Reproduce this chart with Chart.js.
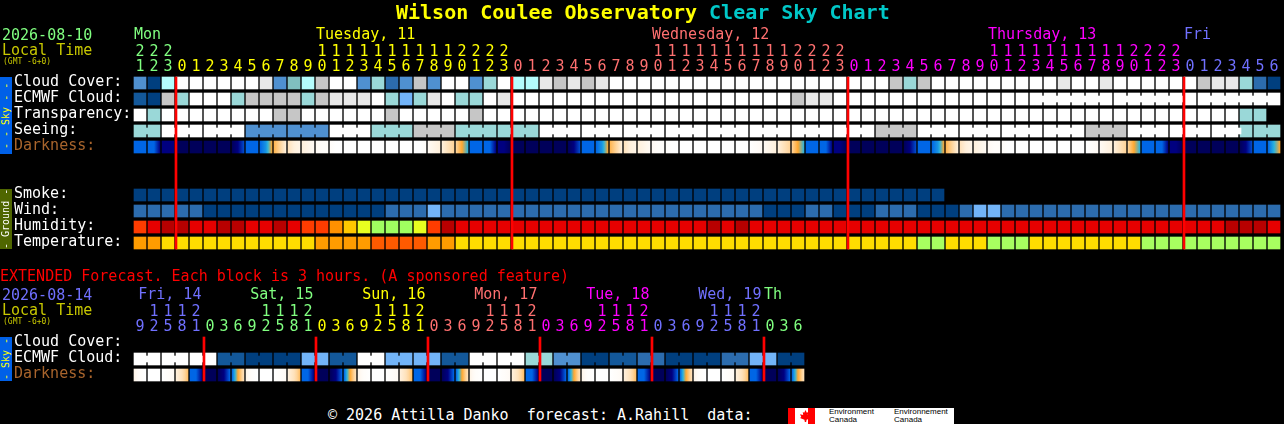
<!DOCTYPE html>
<html>
<head>
<meta charset="utf-8">
<title>Clear Sky Chart</title>
<script src="https://cdn.jsdelivr.net/npm/chart.js@4/dist/chart.umd.min.js"></script>
<style>
  html, body { margin: 0; padding: 0; background: #000; width: 1284px; height: 424px; overflow: hidden; }
  canvas { position: absolute; left: 0; }
  .t { position: absolute; white-space: pre; font-family: "DejaVu Sans Mono", monospace; font-size: 15px; line-height: 16px; }
  .side { position: absolute; left: 0; width: 12px; writing-mode: vertical-rl; transform: rotate(180deg); text-align: center;
          font-family: "DejaVu Sans Mono", monospace; font-size: 10px; line-height: 12px; white-space: pre; }
  #logo { position: absolute; left: 788px; top: 408px; width: 166px; height: 16px; background: #fff; overflow: hidden; }
  #logo i { position: absolute; top: 0; height: 16px; background: #f00; }
  #logo b { position: absolute; left: 12px; top: 2px; width: 11px; height: 12px; background: #f00;
            clip-path: polygon(50% 0, 62% 22%, 75% 16%, 71% 42%, 100% 36%, 88% 58%, 100% 66%, 60% 82%, 56% 100%, 44% 100%, 40% 82%, 0 66%, 12% 58%, 0 36%, 29% 42%, 25% 16%, 38% 22%); }
  #logo span { position: absolute; font: 8px/8px "Liberation Sans", sans-serif; color: #000; }
</style>
</head>
<body>
<canvas id="mainChart" width="1284" height="256" style="top:0"></canvas>
<canvas id="extChart" width="1284" height="110" style="top:280px"></canvas>

<div class="t" style="left:396px;top:0;font-size:20px;line-height:24px;font-weight:bold;color:#ff0">Wilson Coulee Observatory <span style="color:#00c8c8">Clear Sky Chart</span></div>
<div class="t" style="left:2px;top:27px;color:#80ff80">2026-08-10</div>
<div class="t" style="left:2px;top:42px;color:#c8c800">Local Time</div>
<div class="t" style="left:3px;top:57px;font-size:8px;line-height:10px;color:#c8c800">(GMT -6+0)</div>
<div class="t" style="left:0;top:268px;color:#f00">EXTENDED Forecast. Each block is 3 hours. (A sponsored feature)</div>
<div class="t" style="left:2px;top:287px;color:#7070ff">2026-08-14</div>
<div class="t" style="left:2px;top:302px;color:#c8c800">Local Time</div>
<div class="t" style="left:3px;top:317px;font-size:8px;line-height:10px;color:#c8c800">(GMT -6+0)</div>
<div class="t" style="left:328px;top:407px;color:#fff">© 2026 Attilla Danko  forecast: A.Rahill  data:</div>

<div class="side" style="top:77px;height:77px;background:#0060e8;color:#ff0">- - Sky - -</div>
<div class="side" style="top:189px;height:60px;background:#4f6600;color:#fff">- Ground -</div>
<div class="side" style="top:337px;height:44px;background:#0060e8;color:#ff0">- Sky -</div>

<div id="logo">
  <i style="left:0;width:7px"></i><b></b><i style="left:20px;width:7px"></i>
  <span style="left:41px;top:0">Environment</span><span style="left:41px;top:8px">Canada</span>
  <span style="left:106px;top:0">Environnement</span><span style="left:106px;top:8px">Canada</span>
</div>

<script>
// hours along the top of each panel
const mainHours = [21,22,23,
  0,1,2,3,4,5,6,7,8,9,10,11,12,13,14,15,16,17,18,19,20,21,22,23,
  0,1,2,3,4,5,6,7,8,9,10,11,12,13,14,15,16,17,18,19,20,21,22,23,
  0,1,2,3,4,5,6,7,8,9,10,11,12,13,14,15,16,17,18,19,20,21,22,23,
  0,1,2,3,4,5,6]
const extHours = [9,12,15,18,21,0,3,6,9,12,15,18,21,0,3,6,9,12,15,18,21,0,3,6,9,12,15,18,21,0,3,6,9,12,15,18,21,0,3,6,9,12,15,18,21,0,3,6]

const mainRows = ['Cloud Cover:','ECMWF Cloud:','Transparency:','Seeing:','Darkness:','','','Smoke:','Wind:','Humidity:','Temperature:']
const extRows = ['Cloud Cover:','ECMWF Cloud:','Darkness:']

const mainDayNames = ['Mon','Tuesday, 11','Wednesday, 12','Thursday, 13','Fri']
const mainDayStarts = [0,13,37,61,75]
const mainDayColors = ['#80ff80','#ffff00','#ff7070','#ff00ff','#7070ff']
const extDayNames = ['Fri, 14','Sat, 15','Sun, 16','Mon, 17','Tue, 18','Wed, 19','Th']
const extDayStarts = [0.3,8.3,16.3,24.3,32.3,40.3,45]
const extDayColors = ['#7070ff','#80ff80','#ffff00','#ff7070','#ff00ff','#7070ff','#80ff80']

// colour scales, the series below index into these
const skyColors = ['#003f7f','#13589a','#2c6cae','#4f90d0','#72b4f8','#b4fcfc','#9ad8d8','#80bfbf','#c6c6c6','#e8e8e8','#ffffff']
const humidityColors = ['#ff3c00','#e60000','#b80000','#ff9000','#ffc800','#e8ff20','#a0ff60']
const temperatureColors = ['#ff5a00','#ff9c00','#ffdc00','#a8ff60']
const darknessRamp = ['#00005a','#000080','#0032b4','#0066e6','#2ab4e0','#ffa830','#ffd49a','#fff0dc','#fffaf4','#ffffff']

// main panel, one value per hour
const cloudCover = [3,0,5,10,10,10,10,10,10,9,3,7,5,8,10,10,3,6,2,3,8,3,10,10,3,6,10,5,5,9,8,9,8,9,
  10,10,10,10,10,10,10,10,10,10,10,10,10,10,10,10,10,10,10,10,8,6,8,10,10,10,10,10,10,10,10,10,9,10,10,9,10,10,10,10,10,10,8,9,9,6,2,0]
const ecmwfCloud = [1,0,8,6,10,10,10,6,8,8,8,8,6,8,9,9,9,10,6,4,6,9,10,6,6,10,9,
  10,10,10,10,10,10,10,10,10,10,10,10,10,10,10,10,10,10,10,10,8,9,9,
  10,10,10,10,10,10,10,10,10,10,10,10,10,10,10,10,10,10,10,10,10,10,10,10,10,10,10,10,10,10,10,10]
const transparency = [10,6,10,10,10,10,10,10,10,10,8,8,10,10,10,10,10,10,8,10,10,10,10,10,8,
  10,10,10,10,10,10,10,10,10,10,10,10,10,10,10,10,10,10,10,10,10,10,10,10,10,10,10,10,
  10,10,10,10,10,10,10,10,10,10,10,10,10,10,10,10,10,10,10,10,10,10,10,10,10,10,6,6]
const seeing = [6,6,10,10,10,10,10,10,3,3,3,3,3,3,10,10,10,6,6,6,8,8,8,6,6,6,6,6,6,
  10,10,10,10,10,10,10,10,10,10,10,10,10,10,10,10,10,10,10,10,10,10,10,10,8,8,8,
  10,10,10,10,10,10,10,10,10,10,10,10,8,8,8,10,10,10,10,10,10,10,10,6,6,6]
const darknessLeft = [3,3,1,
  0,0,0,0,0,3,3,5.3,6.5,7,8,8.5,9,9,9,9,9,9,8,7,6,3,3,1,
  0,0,0,0,0,3,3,5.3,6.5,7,8,8.5,9,9,9,9,9,9,8,7,6,3,3,1,
  0,0,0,0,0,3,3,5.3,6.5,7,8,8.5,9,9,9,9,9,9,8,7,6,3,3,1,
  0,0,0,0,0,3,3]
const darknessMid = [3,3,1,
  0,0,0,0,1,3,3.6,6,7,7.5,8.5,9,9,9,9,9,9,9,7.5,6.5,5,3,3,1,
  0,0,0,0,1,3,3.6,6,7,7.5,8.5,9,9,9,9,9,9,8.5,7.5,6.5,5,3,3,1,
  0,0,0,0,1,3,3.6,6,7,7.5,8.5,9,9,9,9,9,9,8.5,7.5,6.5,5,3,3,1,
  0,0,0,0,1,3,4]
const darknessRight = [3,1,1,
  0,0,0,0,2.5,3,5,7,7.5,8,8.5,9,9,9,9,9,9,8.5,7,6,4,3,1,0,
  0,0,0,0,2.5,3,5,7,7.5,8,8.5,9,9,9,9,9,9,8,7,6,4,3,1,0,
  0,0,0,0,2.5,3,5,7,7.5,8,8.5,9,9,9,9,9,9,8,7,6,4,3,1,0,
  0,0,0,0,2.5,3,5]
const smoke = [0,0,0,0,0,0,0,0,0,0,0,0,0,0,0,0,0,0,0,0,0,0,0,0,0,0,0,0,0,0,0,0,0,0,0,0,0,0,0,0,0,0,0,0,0,0,0,0,0,0,0,0,0,0,0,0,0,0]
const wind = [2,2,2,2,2,0,0,0,0,0,0,0,0,0,0,0,0,0,2,2,2,4,
  2,2,2,2,2,2,2,2,2,2,2,2,2,2,2,2,2,2,2,2,2,2,2,0,0,0,2,2,0,0,0,2,2,2,0,0,0,2,4,4,
  2,2,2,2,2,2,2,2,2,2,2,2,2,2,2,2,2,2,2,2]
const humidity = [0,1,2,2,1,1,2,2,1,1,2,1,0,0,3,4,5,6,6,6,5,0,2,
  1,1,1,1,1,1,1,1,1,1,1,1,1,1,1,1,1,1,2,1,2,
  1,1,1,1,1,1,1,1,1,1,1,1,1,1,1,1,1,1,1,1,1,1,1,1,1,1,1,1,1,1,1,1,1,1,2,2,2,1]
const temperature = [1,1,2,2,2,2,2,2,2,2,2,2,2,1,1,1,1,0,0,0,0,1,1,
  2,2,2,2,2,2,2,2,2,2,2,2,2,2,2,2,2,2,2,2,2,2,2,2,2,2,2,2,2,2,2,2,2,
  3,3,2,2,2,3,3,3,2,2,2,2,2,2,2,2,3,3,3,3,3,3,3,3,3,3]

// extended panel, one value per 3 hour block
const extEcmwf = [10,10,10,10,10,10,1,1,0,0,0,0,4,4,1,1,10,10,4,4,4,4,1,1,10,10,10,10,6,6,3,3,0,0,1,1,2,2,0,0,0,0,2,2,4,4,0,0]
const extDarkLeft = [7.5,9,9,7,3,0,0,3,7.5,9,9,7,3,0,0,3,7.5,9,9,7,3,0,0,3,7.5,9,9,7,3,0,0,3,7.5,9,9,7,3,0,0,3,7.5,9,9,7,3,0,0,3]
const extDarkMid = [8.5,9,8.5,6.5,3,0,1,5,8.5,9,8.5,6.5,3,0,1,5,8.5,9,8.5,6.5,3,0,1,5,8.5,9,8.5,6.5,3,0,1,5,8.5,9,8.5,6.5,3,0,1,5,8.5,9,8.5,6.5,3,0,1,5]
const extDarkRight = [9,9,8,5.5,1,0,3,6.5,9,9,8,5.5,1,0,3,6.5,9,9,8,5.5,1,0,3,6.5,9,9,8,5.5,1,0,3,6.5,9,9,8,5.5,1,0,3,6.5,9,9,8,5.5,1,0,3,6.5]

const CELL_HALF = 0.375   // 12px of a 16px row
const BRIDGE_HALF = 0.1875

function hex2rgb(h) {
  return [1, 3, 5].map(i => parseInt(h.substr(i, 2), 16))
}
function rampColor(level) {
  const lo = Math.floor(level), hi = Math.min(lo + 1, darknessRamp.length - 1), f = level - lo
  const a = hex2rgb(darknessRamp[lo]), b = hex2rgb(darknessRamp[hi])
  return 'rgb(' + a.map((v, i) => Math.round(v + (b[i] - v) * f)).join(',') + ')'
}

// a row of cells, colours come from a palette lookup
function cellRow(row, values, colors) {
  return {
    data: values.map((v, i) => ({ x: i, y: [row - CELL_HALF, row + CELL_HALF] })),
    backgroundColor: c => colors[values[c.dataIndex]],
    barThickness: 12, stack: 'all', order: 3
  }
}
// the darkness row fades inside each cell
function darknessRow(row, left, mid, right) {
  return {
    data: left.map((v, i) => ({ x: i, y: [row - CELL_HALF, row + CELL_HALF] })),
    backgroundColor: c => {
      const i = c.dataIndex
      const cx = c.chart.scales.x ? c.chart.scales.x.getPixelForValue(i) : NaN
      if (!isFinite(cx)) return darknessRamp[0]
      const g = c.chart.ctx.createLinearGradient(cx - 6, 0, cx + 6, 0)
      for (let t = 0; t <= 12; t++) {
        const p = t / 12
        const level = p < 0.5 ? left[i] + (mid[i] - left[i]) * p * 2 : mid[i] + (right[i] - mid[i]) * (p - 0.5) * 2
        g.addColorStop(p, rampColor(level))
      }
      return g
    },
    barThickness: 12, stack: 'all', order: 3
  }
}
// thin joins between neighbouring cells of one forecast block
function bridgeRow(row, values, colors, joined) {
  const idx = values.map((v, i) => i).filter(i => i < values.length - 1 && joined(i))
  return {
    data: idx.map(i => ({ x: i + 0.5, y: [row - BRIDGE_HALF, row + BRIDGE_HALF] })),
    backgroundColor: c => colors[values[idx[c.dataIndex]]],
    barThickness: 4, stack: 'all', order: 2
  }
}
function midnightRow(hours, rows) {
  const idx = hours.map((h, i) => i).filter(i => hours[i] === 0)
  return {
    data: idx.map(i => ({ x: i - 0.43, y: [-CELL_HALF, rows.length - 1 + CELL_HALF] })),
    backgroundColor: '#ff0000',
    barThickness: 2, stack: 'all', order: 1
  }
}

const dayLabels = {
  id: 'dayLabels',
  afterDraw(chart, args, opts) {
    const { ctx, scales, chartArea } = chart
    ctx.save()
    ctx.font = '15px "DejaVu Sans Mono"'
    ctx.textBaseline = 'middle'
    opts.names.forEach((name, i) => {
      ctx.fillStyle = opts.colors[i]
      ctx.fillText(name, scales.x.getPixelForValue(opts.starts[i]) - 6, chartArea.top - 40)
    })
    ctx.restore()
  }
}

function makeChart(id, hours, rows, datasets, names, starts, colors, pad) {
  const xMax = hours.length - 0.5
  new Chart(document.querySelector(id), {
    type: 'bar',
    data: { datasets: datasets },
    plugins: [dayLabels],
    options: {
      responsive: false,
      animation: false,
      layout: { padding: pad },
      plugins: {
        legend: { display: false },
        tooltip: { enabled: false },
        dayLabels: { names: names, starts: starts, colors: colors }
      },
      scales: {
        x: {
          type: 'linear', position: 'top', min: -0.5, max: xMax, offset: false,
          grid: { display: false, drawTicks: false }, border: { display: false },
          afterBuildTicks: s => { s.ticks = hours.map((h, i) => ({ value: i })) },
          afterFit: s => { s.height = 40; s.paddingLeft = 0; s.paddingRight = 0 },
          ticks: {
            autoSkip: false, maxRotation: 0, minRotation: 0, padding: 0,
            font: { family: '"DejaVu Sans Mono"', size: 15, lineHeight: '15px' },
            color: c => {
              let day = 0
              for (let i = 1; i <= c.index; i++) if (hours[i] === 0) day++
              return colors[day]
            },
            callback: v => {
              const h = hours[v]
              return [h >= 10 ? String(Math.floor(h / 10)) : ' ', String(h % 10)]
            }
          }
        },
        y: {
          type: 'linear', reverse: true, stacked: false, min: -0.5, max: rows.length - 0.5,
          grid: { display: false, drawTicks: false }, border: { display: false },
          afterBuildTicks: s => { s.ticks = rows.map((r, i) => ({ value: i })) },
          afterFit: s => { s.width = 119; s.paddingTop = 0; s.paddingBottom = 0 },
          ticks: {
            autoSkip: false, crossAlign: 'far', labelOffset: -1,
            font: { family: '"DejaVu Sans Mono"', size: 15 },
            color: c => rows[c.tick.value] === 'Darkness:' ? '#a8642c' : '#ffffff',
            callback: v => rows[v]
          }
        }
      }
    }
  })
}

makeChart('#mainChart', mainHours, mainRows, [
  cellRow(0, cloudCover, skyColors),
  cellRow(1, ecmwfCloud, skyColors),
  bridgeRow(1, ecmwfCloud, skyColors, i => i >= 64 && (i - 63) % 6 !== 0),
  cellRow(2, transparency, skyColors),
  cellRow(3, seeing, skyColors),
  bridgeRow(3, seeing, skyColors, i => (i + 1) % 3 !== 2),
  darknessRow(4, darknessLeft, darknessMid, darknessRight),
  cellRow(7, smoke, skyColors),
  cellRow(8, wind, skyColors),
  cellRow(9, humidity, humidityColors),
  cellRow(10, temperature, temperatureColors),
  midnightRow(mainHours, mainRows)
], mainDayNames, mainDayStarts, mainDayColors, { left: 14, right: 3, top: 35, bottom: 5 })

makeChart('#extChart', extHours, extRows, [
  cellRow(1, extEcmwf, skyColors),
  bridgeRow(1, extEcmwf, skyColors, i => i % 2 === 0),
  darknessRow(2, extDarkLeft, extDarkMid, extDarkRight),
  midnightRow(extHours, extRows)
], extDayNames, extDayStarts, extDayColors, { left: 14, right: 479, top: 15, bottom: 7 })
</script>
</body>
</html>
